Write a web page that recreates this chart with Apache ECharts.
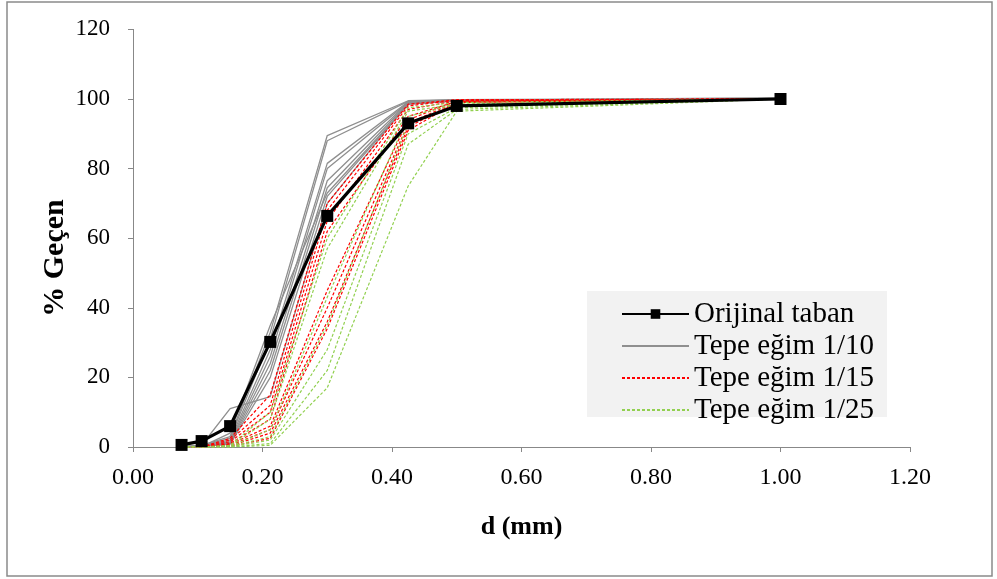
<!DOCTYPE html>
<html>
<head>
<meta charset="utf-8">
<script src="https://cdn.jsdelivr.net/npm/echarts@6/dist/echarts.min.js"></script>
<style>html,body{margin:0;padding:0;background:#fff}#c{width:997px;height:579px}</style>
</head>
<body>
<div id="c"></div>
<script>
// sieve sizes (mm)
var sizes = [0.075, 0.106, 0.15, 0.212, 0.3, 0.425, 0.5, 1.0];
var xTicks = [0, 0.2, 0.4, 0.6, 0.8, 1.0, 1.2];
var yTicks = [0, 20, 40, 60, 80, 100, 120];
var seriesNames = ['Orijinal taban', 'Tepe eğim 1/10', 'Tepe eğim 1/15', 'Tepe eğim 1/25'];

var original = [0.6, 1.7, 6, 30.2, 66.4, 93, 98, 100];

var slope10 = [
  [0, 0.5, 3, 33, 89.5, 99.5, 99.8, 100],
  [0, 0.4, 2.5, 31, 88, 99.3, 99.8, 100],
  [0, 0.3, 2, 28, 81.5, 99.2, 99.7, 100],
  [0, 0.3, 1.5, 26, 80, 99, 99.6, 100],
  [0, 0.5, 11, 14.5, 70, 98.8, 99.6, 100.4],
  [0, 0.2, 1.2, 24, 76.5, 99, 99.6, 100],
  [0, 0.2, 1, 22, 74.5, 98.8, 99.5, 100],
  [0, 0.1, 0.8, 20, 72, 98.5, 99.5, 100],
  [0, 0.1, 4, 35, 73, 98.5, 99.5, 100]
];

var slope15 = [
  [0, 0, 2.5, 15, 70, 98.5, 99.8, 100],
  [0, 0, 2, 12, 68, 98, 99.7, 100],
  [0, 0, 1.5, 10, 65, 97, 99.5, 100],
  [0, 0, 1, 8, 62, 95, 99.3, 100],
  [0, 0, 0.8, 6, 45, 94, 99.5, 100],
  [0, 0, 0.5, 5, 40, 93, 99.2, 100],
  [0, 0, 0.3, 4, 36, 92, 99, 100],
  [0, 0, 0.2, 2.5, 34, 91, 99, 100]
];

var slope25 = [
  [0, 0, 0.5, 10, 60, 97.5, 99, 100],
  [0, 0, 0.3, 8, 57, 96.5, 98.5, 100],
  [0, 0, 0.2, 5, 43, 95, 98.5, 100],
  [0, 0, 0.1, 3, 35, 93, 98, 100],
  [0, 0, 0, 2, 28, 90, 97.5, 100],
  [0, 0, 0, 1, 22, 87, 97, 100],
  [0, 0, 0, 0.5, 17, 75, 96.5, 100]
];

function pairs(vals) { return sizes.map(function (x, i) { return [x, vals[i]]; }); }

var FONT = '"Liberation Serif", "Times New Roman", serif';
var series = [];
slope10.forEach(function (v) {
  series.push({ name: seriesNames[1], type: 'line', data: pairs(v), symbol: 'none',
    lineStyle: { color: '#8f8f8f', width: 1.3 }, itemStyle: { color: '#8f8f8f' }, z: 2 });
});
slope15.forEach(function (v) {
  series.push({ name: seriesNames[2], type: 'line', data: pairs(v), symbol: 'none',
    lineStyle: { color: '#ff0000', width: 1.2, type: [3, 2] }, itemStyle: { color: '#ff0000' }, z: 3 });
});
slope25.forEach(function (v) {
  series.push({ name: seriesNames[3], type: 'line', data: pairs(v), symbol: 'none',
    lineStyle: { color: '#92d050', width: 1.2, type: [3, 2] }, itemStyle: { color: '#92d050' }, z: 3 });
});
series.push({ name: seriesNames[0], type: 'line', data: pairs(original), symbol: 'rect', symbolSize: 12,
  lineStyle: { color: '#000', width: 3.2 }, itemStyle: { color: '#000' }, z: 5 });

var chart = echarts.init(document.getElementById('c'), null, { renderer: 'canvas' });
chart.setOption({
  animation: false,
  backgroundColor: '#fff',
  textStyle: { fontFamily: FONT },
  graphic: [
    { type: 'rect', shape: { x: 7, y: 2, width: 985, height: 574 }, style: { fill: 'none', stroke: '#8a8a8a', lineWidth: 1.5 }, z: -10 },
    { type: 'rect', shape: { x: 587, y: 291, width: 300, height: 126 }, style: { fill: '#f2f2f2' }, z: 0 },
    { type: 'text', x: 55, y: 258, rotation: Math.PI / 2,
      style: { text: '% Geçen', font: 'bold 30px ' + FONT, fill: '#000', textAlign: 'center', textVerticalAlign: 'middle' } }
  ],
  grid: { left: 133, right: 87, top: 29.4, bottom: 132, containLabel: false },
  legend: {
    data: [
      { name: seriesNames[0] },
      { name: seriesNames[1], itemStyle: { opacity: 0 } },
      { name: seriesNames[2], itemStyle: { opacity: 0 } },
      { name: seriesNames[3], itemStyle: { opacity: 0 } }
    ],
    orient: 'vertical',
    left: 616, top: 294,
    itemWidth: 67, itemHeight: 12, itemGap: 2,
    textStyle: { fontFamily: FONT, fontSize: 29, color: '#000', lineHeight: 30 },
    z: 10
  },
  xAxis: {
    type: 'value', min: 0, max: 1.2, interval: 0.2,
    name: 'd (mm)', nameLocation: 'middle', nameGap: 67,
    nameTextStyle: { fontFamily: FONT, fontSize: 26, fontWeight: 'bold', color: '#000' },
    axisLine: { show: true, lineStyle: { color: '#888', width: 1 } },
    axisTick: { show: true, length: 5, lineStyle: { color: '#888' } },
    axisLabel: { fontFamily: FONT, fontSize: 24, color: '#000', margin: 19,
      formatter: function (v) { return v.toFixed(2); } },
    splitLine: { show: false }
  },
  yAxis: {
    type: 'value', min: 0, max: 120, interval: 20,
    axisLine: { show: true, lineStyle: { color: '#888', width: 1 } },
    axisTick: { show: true, length: 5, lineStyle: { color: '#888' } },
    axisLabel: { fontFamily: FONT, fontSize: 23, color: '#000', margin: 23 },
    splitLine: { show: false }
  },
  series: series
});
</script>
</body>
</html>
